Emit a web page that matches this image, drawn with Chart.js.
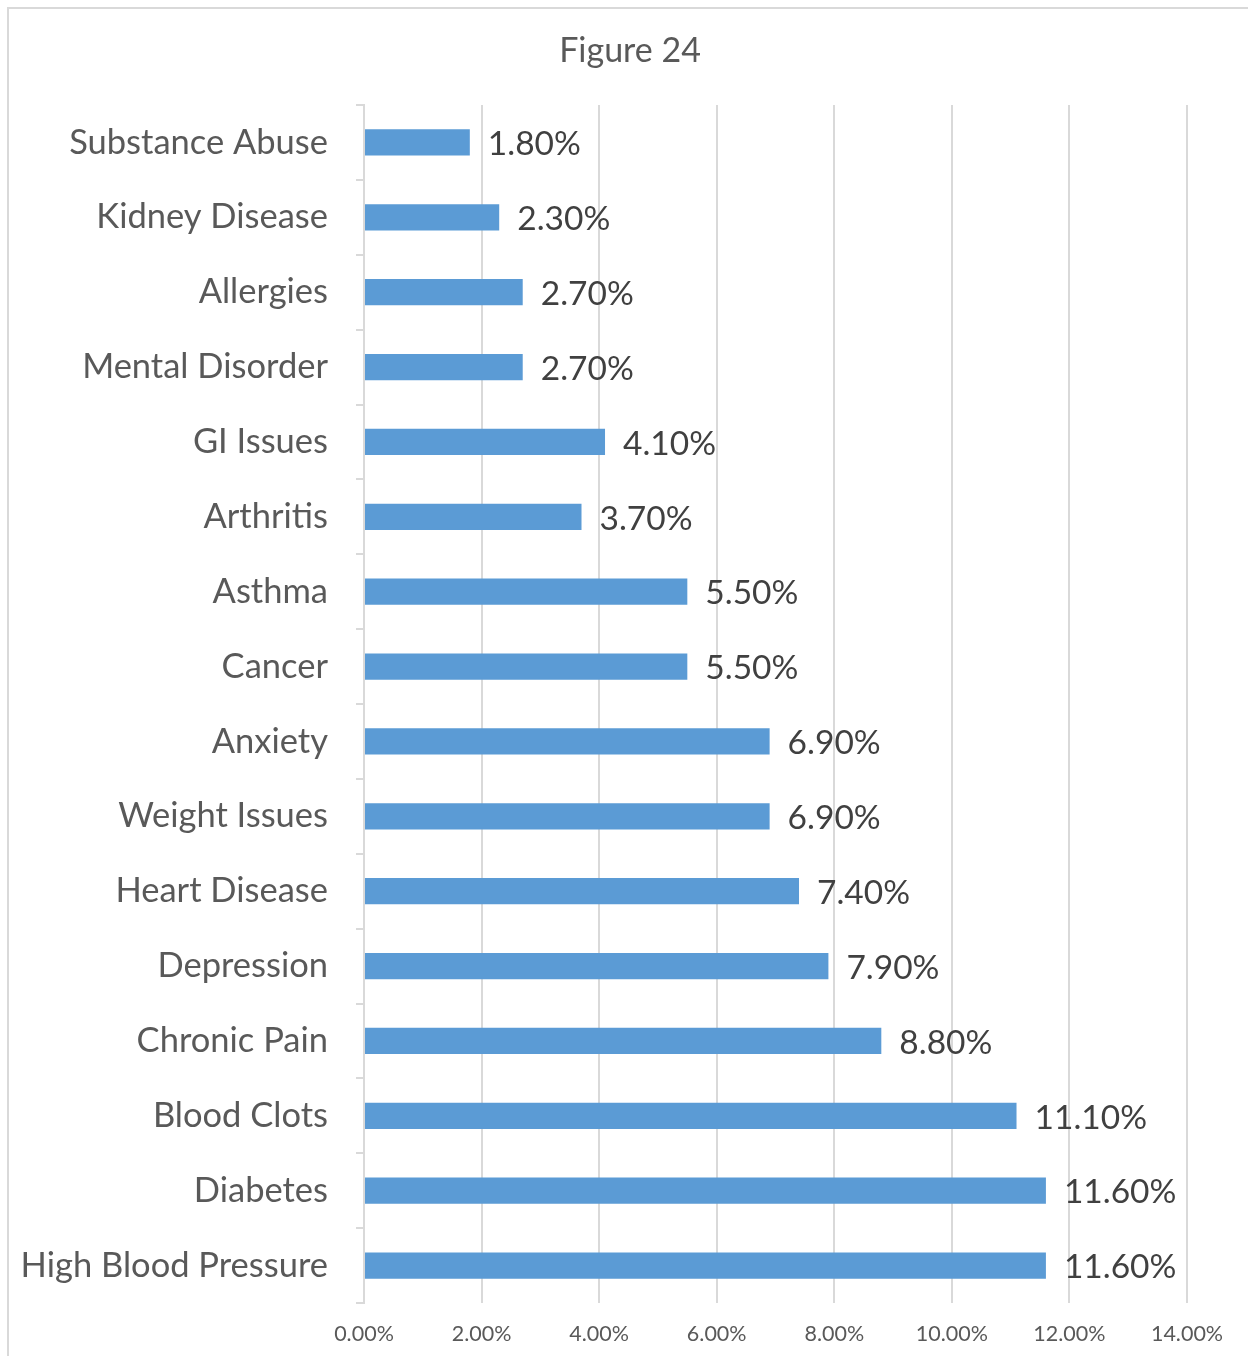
<!DOCTYPE html>
<html>
<head>
<meta charset="utf-8">
<script src="https://cdn.jsdelivr.net/npm/chart.js@4/dist/chart.umd.min.js"></script>
<style>
  html, body { margin: 0; padding: 0; background: #ffffff; }
  #wrap { width: 1248px; height: 1356px; position: relative; }
</style>
</head>
<body>
<div id="wrap"><canvas id="conditionsChart"></canvas></div>
<script>
const conditions = [
    'Substance Abuse', 'Kidney Disease', 'Allergies', 'Mental Disorder',
    'GI Issues', 'Arthritis', 'Asthma', 'Cancer', 'Anxiety', 'Weight Issues',
    'Heart Disease', 'Depression', 'Chronic Pain', 'Blood Clots', 'Diabetes',
    'High Blood Pressure'
];
const percentages = [1.8, 2.3, 2.7, 2.7, 4.1, 3.7, 5.5, 5.5, 6.9, 6.9, 7.4, 7.9, 8.8, 11.1, 11.6, 11.6];
const axisMin = 0;
const axisMax = 14;
const axisStep = 2;
const chartTitle = 'Figure 24';

const FONT = 'Lato, "Open Sans", sans-serif';

// white page, light frame on the top and left edges, and the title centred on the page
const framePlugin = {
    id: 'frame',
    beforeDraw: function (chart) {
        const ctx = chart.ctx;
        ctx.save();
        ctx.fillStyle = '#ffffff';
        ctx.fillRect(0, 0, chart.width, chart.height);
        ctx.strokeStyle = '#d9d9d9';
        ctx.lineWidth = 2;
        ctx.beginPath();
        ctx.moveTo(8, chart.height);
        ctx.lineTo(8, 8);
        ctx.lineTo(chart.width, 8);
        ctx.stroke();

        ctx.font = '34px ' + FONT;
        ctx.fillStyle = '#595959';
        ctx.textAlign = 'center';
        ctx.textBaseline = 'alphabetic';
        ctx.fillText(chartTitle, 630, 62);
        ctx.restore();
    }
};

// value labels to the right of each bar
const valueLabels = {
    id: 'valueLabels',
    afterDatasetsDraw: function (chart) {
        const ctx = chart.ctx;
        const meta = chart.getDatasetMeta(0);
        const values = chart.data.datasets[0].data;
        ctx.save();
        ctx.font = '33.5px ' + FONT;
        ctx.fillStyle = '#404040';
        ctx.textAlign = 'left';
        ctx.textBaseline = 'middle';
        meta.data.forEach(function (bar, i) {
            ctx.fillText(values[i].toFixed(2) + '%', bar.x + 18, bar.y + 2);
        });
        ctx.restore();
    }
};

const ctx = document.getElementById('conditionsChart').getContext('2d');

window.conditionsChartInstance = new Chart(ctx, {
    type: 'bar',
    data: {
        labels: conditions,
        datasets: [{
            label: 'Share',
            data: percentages,
            backgroundColor: '#5b9bd5',
            borderWidth: 0,
            barPercentage: 1,
            categoryPercentage: 0.35
        }]
    },
    options: {
        indexAxis: 'y',
        responsive: true,
        maintainAspectRatio: false,
        animation: false,
        layout: {
            padding: { top: 105, right: 61, bottom: 0, left: 0 }
        },
        plugins: {
            legend: { display: false },
            tooltip: { enabled: false },
            title: { display: false }
        },
        scales: {
            x: {
                min: axisMin,
                max: axisMax,
                border: { display: false },
                grid: {
                    color: '#d9d9d9',
                    lineWidth: 2,
                    drawTicks: false
                },
                ticks: {
                    stepSize: axisStep,
                    color: '#595959',
                    padding: 18,
                    font: { family: FONT, size: 21.5 },
                    callback: function (value) {
                        return value.toFixed(2) + '%';
                    }
                },
                afterFit: function (scale) {
                    scale.height = 53;
                }
            },
            y: {
                border: { display: true, color: '#d9d9d9', width: 2 },
                grid: {
                    drawOnChartArea: false,
                    color: '#d9d9d9',
                    lineWidth: 2,
                    tickLength: 8
                },
                ticks: {
                    color: '#595959',
                    padding: 28,
                    font: { family: FONT, size: 34.5 }
                },
                afterFit: function (scale) {
                    scale.width = 364;
                }
            }
        }
    },
    plugins: [framePlugin, valueLabels]
});
</script>
</body>
</html>
